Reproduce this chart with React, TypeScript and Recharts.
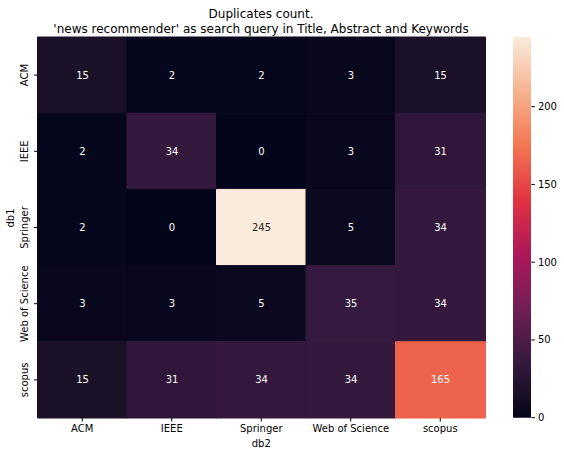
import React from 'react';
import { BarChart, Bar, XAxis, YAxis, Cell, LabelList } from 'recharts';

const ROWS = ['ACM', 'IEEE', 'Springer', 'Web of Science', 'scopus'];
const COLS = ['ACM', 'IEEE', 'Springer', 'Web of Science', 'scopus'];

// counts[row][col]
const ACM_ROW = [15, 2, 2, 3, 15];
const IEEE_ROW = [2, 34, 0, 3, 31];
const SPRINGER_ROW = [2, 0, 245, 5, 34];
const WOS_ROW = [3, 3, 5, 35, 34];
const SCOPUS_ROW = [15, 31, 34, 34, 165];
const COUNTS = [ACM_ROW, IEEE_ROW, SPRINGER_ROW, WOS_ROW, SCOPUS_ROW];

const VMAX = 245;
const CBAR_TICKS = [0, 50, 100, 150, 200];

// approximate seaborn "rocket" colormap
const ROCKET: [number, string][] = [
  [0.0, '#03051a'],
  [0.061, '#1a1028'],
  [0.143, '#35193e'],
  [0.286, '#701f57'],
  [0.429, '#ad1759'],
  [0.571, '#e13342'],
  [0.714, '#f37651'],
  [0.857, '#f6b48f'],
  [1.0, '#faebdd'],
];

const hexToRgb = (h: string) => [1, 3, 5].map(i => parseInt(h.slice(i, i + 2), 16));

const rocket = (t: number) => {
  t = Math.max(0, Math.min(1, t));
  for (let i = 1; i < ROCKET.length; i++) {
    const [p1, c1] = ROCKET[i];
    const [p0, c0] = ROCKET[i - 1];
    if (t <= p1) {
      const f = (t - p0) / (p1 - p0);
      const a = hexToRgb(c0);
      const b = hexToRgb(c1);
      const rgb = a.map((v, k) => Math.round(v + (b[k] - v) * f));
      return { rgb, css: `rgb(${rgb.join(',')})` };
    }
  }
  const rgb = hexToRgb(ROCKET[ROCKET.length - 1][1]);
  return { rgb, css: `rgb(${rgb.join(',')})` };
};

const luminance = (rgb: number[]) => {
  const c = rgb.map(v => {
    const s = v / 255;
    return s <= 0.03928 ? s / 12.92 : Math.pow((s + 0.055) / 1.055, 2.4);
  });
  return 0.2126 * c[0] + 0.7152 * c[1] + 0.0722 * c[2];
};

const data = COLS.map((name, j) => {
  const row: Record<string, number | string> = { name };
  ROWS.forEach((_, i) => {
    row[`r${i}`] = 1;
    row[`v${i}`] = COUNTS[i][j];
  });
  return row;
});

const FONT = '"DejaVu Sans", sans-serif';

const CellLabel = (props: any) => {
  const { x, y, width, height, value } = props;
  const col = rocket(value / VMAX);
  const fill = luminance(col.rgb) > 0.408 ? '#262626' : '#ffffff';
  return (
    <text x={x + width / 2} y={y + height / 2} textAnchor="middle" dominantBaseline="central"
      fontSize={10} fontFamily={FONT} fill={fill}>
      {value}
    </text>
  );
};

const RowTick = (props: any) => {
  const { x, y, payload } = props;
  const label = ROWS[Math.floor(payload.value)];
  const tx = x - 4;
  return (
    <text x={tx} y={y} transform={`rotate(-90 ${tx} ${y})`} textAnchor="middle"
      fontSize={10} fontFamily={FONT} fill="#000">
      {label}
    </text>
  );
};

const cbarData = [{ name: 'cbar', v: VMAX }];

export default function App() {
  return (
    <div style={{ position: 'absolute', left: 0, top: 0, width: 564, height: 456, background: '#fff', fontFamily: FONT }}>
      <div style={{ position: 'absolute', left: 37, width: 448, top: 7, textAlign: 'center', fontSize: 12, lineHeight: '15px', color: '#000' }}>
        Duplicates count.<br />'news recommender' as search query in Title, Abstract and Keywords
      </div>
      <div style={{ position: 'absolute', left: 0, top: 0 }}>
        <BarChart width={564} height={456} data={data} barCategoryGap={0}
          margin={{ top: 37, right: 79, bottom: 8, left: 0 }}>
          <XAxis dataKey="name" height={30} tickSize={3.5} tickMargin={3} axisLine={false}
            tick={{ fontSize: 10, fill: '#000', fontFamily: FONT }} tickLine={{ stroke: '#000' }}
            label={{ value: 'db2', position: 'insideBottom', offset: 1, fontSize: 10, fill: '#000', fontFamily: FONT }} />
          <YAxis type="number" domain={[0, 5]} reversed width={37.5} ticks={[0.5, 1.5, 2.5, 3.5, 4.5]}
            tickSize={3.5} axisLine={false} tickLine={{ stroke: '#000' }} tick={<RowTick />}
            label={{ value: 'db1', angle: -90, position: 'insideLeft', offset: 10, fontSize: 10, fill: '#000', fontFamily: FONT }} />
          {ROWS.map((r, i) => (
            <Bar key={r} dataKey={`r${i}`} stackId="a" isAnimationActive={false}>
              {COLS.map((c, j) => {
                const fill = rocket(COUNTS[i][j] / VMAX).css;
                return <Cell key={c} fill={fill} stroke={fill} strokeWidth={1} />;
              })}
              <LabelList dataKey={`v${i}`} content={<CellLabel />} />
            </Bar>
          ))}
        </BarChart>
      </div>
      <div style={{ position: 'absolute', left: 513.3, top: 0 }}>
        <BarChart width={60} height={456} data={cbarData} barCategoryGap={0}
          margin={{ top: 36.7, right: 0, bottom: 38.3, left: 0 }}>
          <defs>
            <linearGradient id="rocketGrad" x1="0" y1="1" x2="0" y2="0">
              {ROCKET.map(([p, c]) => (
                <stop key={p} offset={`${p * 100}%`} stopColor={c} />
              ))}
            </linearGradient>
          </defs>
          <XAxis dataKey="name" hide />
          <YAxis orientation="right" type="number" domain={[0, VMAX]} ticks={CBAR_TICKS} width={41.6}
            tickSize={3.5} tickMargin={3} axisLine={false} tickLine={{ stroke: '#000' }}
            tick={{ fontSize: 10, fill: '#000', fontFamily: FONT, textAnchor: 'start' }} />
          <Bar dataKey="v" fill="url(#rocketGrad)" isAnimationActive={false} />
        </BarChart>
      </div>
    </div>
  );
}
